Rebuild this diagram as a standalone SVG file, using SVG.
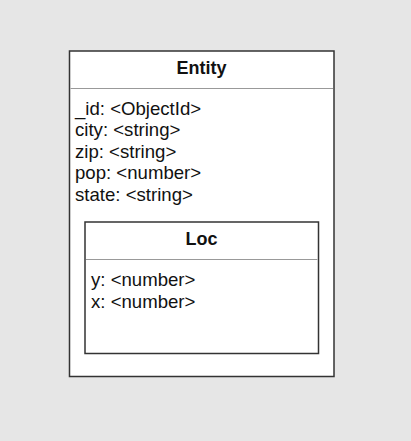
<svg xmlns="http://www.w3.org/2000/svg" width="411" height="441" viewBox="0 0 411 441">
<style>
.box{fill:#ffffff;stroke:#333333;stroke-width:1.5}
.sep{stroke:#999999;stroke-width:1.2}
.title{font-family:"Liberation Sans",Arial,sans-serif;font-size:18px;font-weight:bold;fill:#111111;text-anchor:middle}
.field{font-family:"Liberation Sans",Arial,sans-serif;font-size:18.6px;fill:#111111}
</style>
<rect x="0" y="0" width="411" height="441" fill="#e6e6e6"/>
<g id="entity">
<rect class="box" x="69.5" y="51" width="264.5" height="325.5"/>
<line class="sep" x1="70.5" y1="88.5" x2="333" y2="88.5"/>
<text class="title" x="201.5" y="74">Entity</text>
<text class="field" x="75" y="114.5">_id: &lt;ObjectId&gt;</text>
<text class="field" x="75" y="136">city: &lt;string&gt;</text>
<text class="field" x="75" y="157.5">zip: &lt;string&gt;</text>
<text class="field" x="75" y="179">pop: &lt;number&gt;</text>
<text class="field" x="75" y="200.5">state: &lt;string&gt;</text>
</g>
<g id="loc">
<rect class="box" x="85" y="222" width="233.5" height="131.5"/>
<line class="sep" x1="86" y1="259.5" x2="317.5" y2="259.5"/>
<text class="title" x="201.5" y="245">Loc</text>
<text class="field" x="91" y="286">y: &lt;number&gt;</text>
<text class="field" x="91" y="307.5">x: &lt;number&gt;</text>
</g>
<g id="connectors"></g>
</svg>
